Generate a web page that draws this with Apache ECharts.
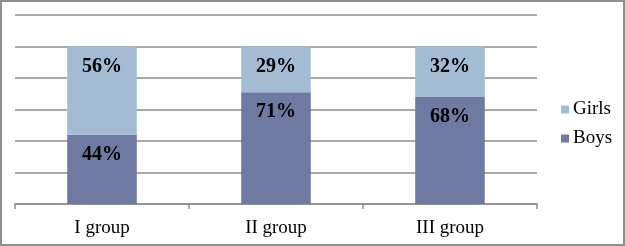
<!DOCTYPE html>
<html>
<head>
<meta charset="utf-8">
<script src="https://cdn.jsdelivr.net/npm/echarts@6/dist/echarts.min.js"></script>
<style>
html,body{margin:0;padding:0;background:#fff;}
#chart{width:625px;height:246px;box-sizing:border-box;border:2px solid #8f8f8f;}
</style>
</head>
<body>
<div id="chart"></div>
<script>
var groups = ['I group', 'II group', 'III group'];
var boys = [44, 71, 68];
var girls = [56, 29, 32];

var font = '"Liberation Serif", "Times New Roman", serif';
var labelStyle = {
  show: true,
  position: 'insideTop',
  distance: 10,
  formatter: '{c}%',
  color: '#000',
  fontFamily: font,
  fontWeight: 'bold',
  fontSize: 20
};

var myChart = echarts.init(document.getElementById('chart'));
var option = {
  animation: false,
  grid: {left: 13, right: 86, top: 13, bottom: 40},
  legend: {
    orient: 'vertical',
    left: 554,
    top: 93,
    icon: 'rect',
    itemWidth: 8,
    itemHeight: 8,
    itemGap: 10,
    data: ['Girls', 'Boys'],
    textStyle: {fontFamily: font, fontSize: 19, color: '#000', padding: [0, 0, 0, -1]}
  },
  xAxis: {
    type: 'category',
    data: groups,
    axisLine: {lineStyle: {color: '#8c8c8c', width: 1.5}},
    axisTick: {show: true, length: 5, lineStyle: {color: '#8c8c8c', width: 1.5}},
    axisLabel: {color: '#000', fontFamily: font, fontSize: 19, margin: 15}
  },
  yAxis: {
    type: 'value',
    min: 0,
    max: 120,
    interval: 20,
    axisLabel: {show: false},
    axisLine: {show: false},
    axisTick: {show: false},
    splitLine: {lineStyle: {color: '#8c8c8c', width: 1.5}}
  },
  series: [
    {
      name: 'Boys',
      type: 'bar',
      stack: 'total',
      barWidth: '40%',
      color: '#6e7aa2',
      label: labelStyle,
      data: boys
    },
    {
      name: 'Girls',
      type: 'bar',
      stack: 'total',
      barWidth: '40%',
      color: '#a3bbd3',
      label: labelStyle,
      data: girls
    }
  ]
};
myChart.setOption(option);
</script>
</body>
</html>
